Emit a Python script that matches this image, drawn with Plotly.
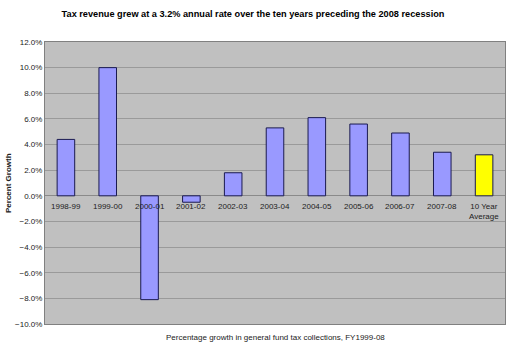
import plotly.graph_objects as go

categories = ["1998-99", "1999-00", "2000-01", "2001-02", "2002-03", "2003-04",
              "2004-05", "2005-06", "2006-07", "2007-08", "10 Year<br>Average"]
growth = [4.4, 10.0, -8.1, -0.5, 1.8, 5.3, 6.1, 5.6, 4.9, 3.4, 3.2]
bar_colors = ["#9999FF"] * 10 + ["#FFFF00"]

title_text = "Tax revenue grew at a 3.2% annual rate over the ten years preceding the 2008 recession"
x_title = "Percentage growth in general fund tax collections, FY1999-08"
y_title = "Percent Growth"

font = "Liberation Sans, Arial, sans-serif"

fig = go.Figure()
fig.add_trace(go.Bar(
    x=list(range(len(categories))), y=growth,
    marker=dict(color=bar_colors, line=dict(color="#1a1a50", width=1)),
    width=0.42,
))

for i, c in enumerate(categories):
    fig.add_annotation(x=i, y=0, xref="x", yref="y", text=c, showarrow=False,
                       yanchor="top", yshift=-4, font=dict(family=font, size=8, color="#222"))

fig.update_layout(
    width=515, height=353,
    margin=dict(l=45, r=10, t=42, b=29),
    paper_bgcolor="white", plot_bgcolor="#C0C0C0",
    showlegend=False,
    title=dict(text="<b>" + title_text + "</b>", x=253/515, xanchor="center",
               y=1 - 14/353, yanchor="middle", font=dict(family=font, size=9.2, color="black")),
    xaxis=dict(range=[-0.5, 10.5], showticklabels=False, showgrid=False, zeroline=False,
               showline=True, mirror=True, linecolor="#808080", linewidth=1, ticks=""),
    yaxis=dict(range=[-10, 12], dtick=2, tickformat=".1f", ticksuffix="%",
               showgrid=True, gridcolor="#9a9a9a", gridwidth=1,
               zeroline=True, zerolinecolor="#8a8a8a", zerolinewidth=1,
               showline=True, mirror=True, linecolor="#808080", linewidth=1,
               tickfont=dict(family=font, size=8, color="#222"), ticks=""),
)
fig.add_annotation(xref="paper", yref="paper", x=0.5, y=-13/282, yanchor="middle",
                   text=x_title, showarrow=False, font=dict(family=font, size=8, color="#222"))
fig.add_annotation(xref="paper", yref="paper", x=-37/460, y=0.5, textangle=-90,
                   xanchor="center", yanchor="middle",
                   text="<b>" + y_title + "</b>", showarrow=False,
                   font=dict(family=font, size=8, color="#222"))

fig.write_html("out.html")
